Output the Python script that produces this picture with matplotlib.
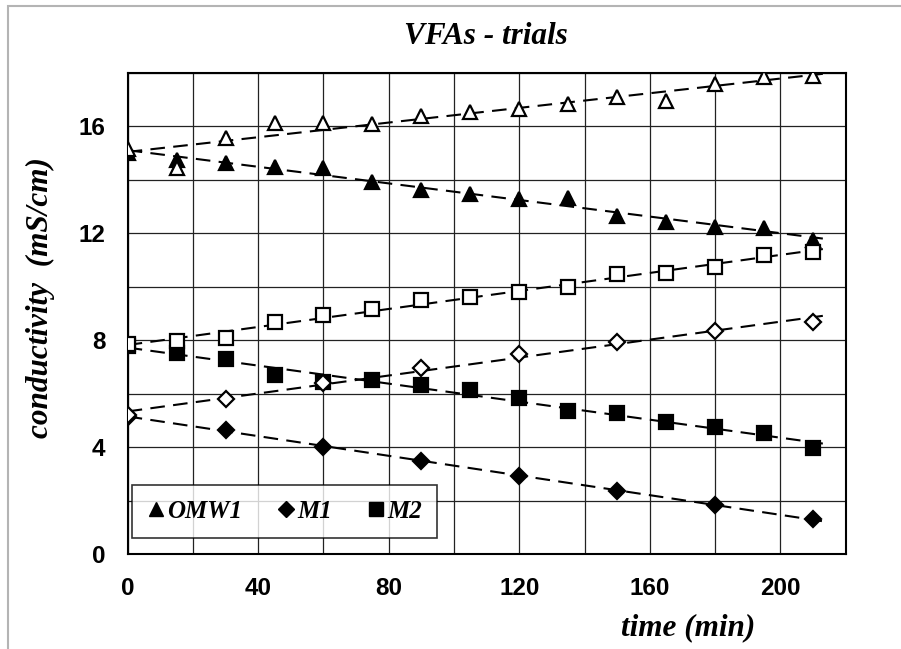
import numpy as np
import matplotlib
matplotlib.use("Agg")
import matplotlib.pyplot as plt
from matplotlib.patches import Rectangle
from matplotlib.ticker import MultipleLocator

# data (time in min, conductivity in mS/cm)
t15 = [0, 15, 30, 45, 60, 75, 90, 105, 120, 135, 150, 165, 180, 195, 210]
t30 = [0, 30, 60, 90, 120, 150, 180, 210]

omw1_down = [15.0, 14.74, 14.62, 14.49, 14.43, 13.91, 13.62, 13.46, 13.28, 13.33, 12.66, 12.41, 12.22, 12.2, 11.75]
omw1_up = [15.15, 14.44, 15.55, 16.13, 16.13, 16.08, 16.38, 16.53, 16.63, 16.82, 17.1, 16.93, 17.59, 17.84, 17.88]
m2_down = [7.79, 7.51, 7.29, 6.70, 6.43, 6.52, 6.33, 6.14, 5.83, 5.37, 5.27, 4.93, 4.77, 4.52, 3.96]
m2_up = [7.85, 7.99, 8.07, 8.68, 8.95, 9.16, 9.51, 9.63, 9.79, 9.98, 10.47, 10.53, 10.75, 11.19, 11.31]
m1_down = [5.14, 4.65, 4.02, 3.49, 2.94, 2.38, 1.84, 1.31]
m1_up = [5.2, 5.81, 6.39, 6.95, 7.48, 7.95, 8.35, 8.68]

serif = "Liberation Serif"
sans = "Liberation Sans"

fig = plt.figure(figsize=(9.01, 6.49), dpi=100)
ax = fig.add_axes([0.1417, 0.1459, 0.7969, 0.7421])

# outer grey chart border (cut by the image edge)
fig.patches.append(Rectangle((8 / 901, -0.1), 1.2, 1 - 6 / 649 + 0.1, transform=fig.transFigure,
                             fill=False, edgecolor="#b4b4b4", linewidth=1.5))

series = [
    (t15, omw1_down, "^", "black", 10.5),
    (t15, omw1_up, "^", "white", 10.5),
    (t15, m2_down, "s", "black", 10.5),
    (t15, m2_up, "s", "white", 10.5),
    (t30, m1_down, "D", "black", 8.5),
    (t30, m1_up, "D", "white", 8.5),
]
xfit = np.array([0, 213])
for x, y, mk, fc, ms in series:
    k, b = np.polyfit(x, y, 1)
    ax.plot(xfit, k * xfit + b, color="black", lw=1.5, dashes=(7, 4), zorder=3)
    ax.plot(x, y, linestyle="none", marker=mk, ms=ms, mfc=fc, mec="black", mew=1.6, zorder=4)

ax.set_xlim(0, 220)
ax.set_ylim(0, 18)
ax.xaxis.set_major_locator(MultipleLocator(40))
ax.xaxis.set_minor_locator(MultipleLocator(20))
ax.yaxis.set_major_locator(MultipleLocator(4))
ax.yaxis.set_minor_locator(MultipleLocator(2))
ax.grid(True, which="both", color="#222222", linewidth=0.9)
ax.set_axisbelow(True)
ax.tick_params(which="both", length=0)
ax.tick_params(axis="x", pad=16)
ax.tick_params(axis="y", pad=16)
for lab in ax.get_xticklabels() + ax.get_yticklabels():
    lab.set_fontfamily(sans)
    lab.set_fontweight("bold")
    lab.set_fontsize(17.5)
for s in ax.spines.values():
    s.set_linewidth(1.5)

fig.text(486 / 901, 1 - 37 / 649, "VFAs - trials", ha="center", va="center",
         family=serif, weight="bold", style="italic", fontsize=22.5)
fig.text(688 / 901, 1 - 628 / 649, "time (min)", ha="center", va="center",
         family=serif, weight="bold", style="italic", fontsize=22.5)
fig.text(40 / 901, 1 - 298 / 649, "conductivity  (mS/cm)", ha="center", va="center", rotation=90,
         family=serif, weight="bold", style="italic", fontsize=22.5)

handles = [
    plt.Line2D([], [], linestyle="none", marker="^", ms=10.5, mfc="black", mec="black"),
    plt.Line2D([], [], linestyle="none", marker="D", ms=8.5, mfc="black", mec="black"),
    plt.Line2D([], [], linestyle="none", marker="s", ms=10.5, mfc="black", mec="black"),
]
leg = ax.legend(handles, ["OMW1", "M1", "M2"], ncol=3, loc="center",
                bbox_to_anchor=(0.2184, 0.0899), frameon=True, fancybox=False,
                handlelength=0.7, handletextpad=0.1, columnspacing=1.4,
                borderpad=0.6, prop={"family": serif, "weight": "bold", "style": "italic", "size": 18})
leg.get_frame().set_edgecolor("black")
leg.get_frame().set_linewidth(1.2)
leg.set_zorder(5)

fig.savefig("out.png", dpi=100)
